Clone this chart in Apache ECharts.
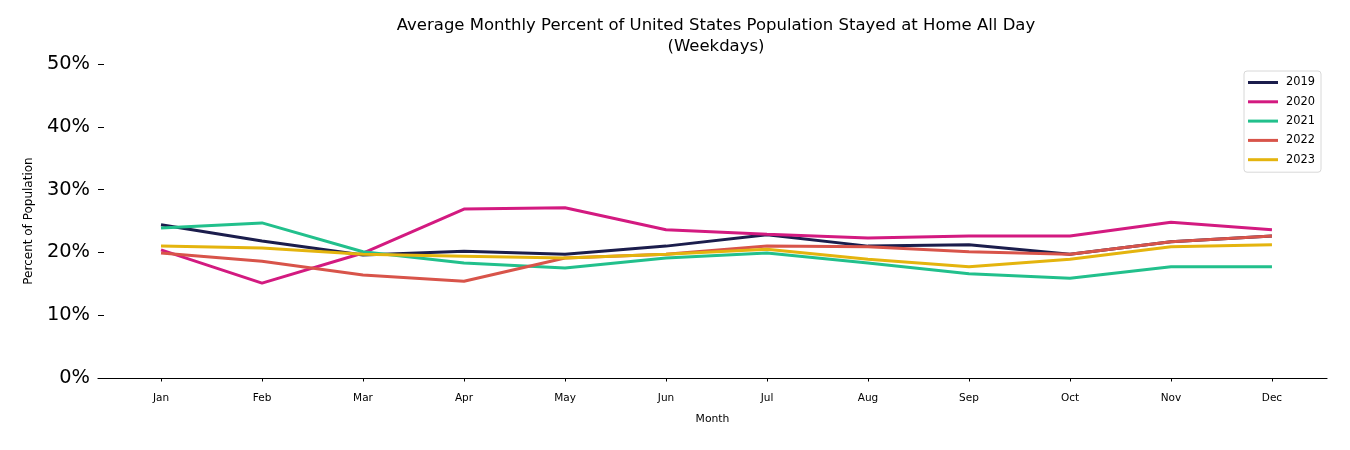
<!DOCTYPE html>
<html>
<head>
<meta charset="utf-8">
<script src="https://cdn.jsdelivr.net/npm/echarts@6/dist/echarts.min.js"></script>
<style>html,body{margin:0;padding:0;background:#fff}#c{width:1350px;height:450px}</style>
</head>
<body>
<div id="c"></div>
<script>
const months = ['Jan','Feb','Mar','Apr','May','Jun','Jul','Aug','Sep','Oct','Nov','Dec'];
const yTicks = [0,10,20,30,40,50];
const years = ['2019','2020','2021','2022','2023'];
const v2019 = [24.4,21.8,19.6,20.2,19.7,21.0,22.8,21.0,21.2,19.7,21.7,22.6];
const v2020 = [20.4,15.1,19.9,26.9,27.1,23.6,22.9,22.3,22.6,22.6,24.8,23.6];
const v2021 = [23.9,24.7,20.1,18.3,17.5,19.1,19.9,18.3,16.6,15.9,17.7,17.7];
const v2022 = [19.9,18.6,16.4,15.4,19.1,19.7,21.0,20.9,20.1,19.7,21.7,22.6];
const v2023 = [21.0,20.7,19.7,19.4,19.1,19.7,20.5,18.9,17.7,18.9,20.9,21.2];
const values = [v2019,v2020,v2021,v2022,v2023];
const colors = ['#1b1d4c','#d31a80','#22c08c','#d8544a','#e4b40e'];

const font = 'DejaVu Sans';
const chart = echarts.init(document.getElementById('c'), null, {renderer:'canvas'});
chart.setOption({
  animation:false,
  backgroundColor:'#fff',
  graphic:[
    {type:'text', x:716, y:17, style:{text:'Average Monthly Percent of United States Population Stayed at Home All Day', font:'16.5px "DejaVu Sans"', fill:'#000', align:'center'}},
    {type:'text', x:716, y:38, style:{text:'(Weekdays)', font:'16.5px "DejaVu Sans"', fill:'#000', align:'center'}}
  ],
  grid:{left:98, right:23, top:64, bottom:72},
  legend:{
    orient:'vertical', right:29, top:71,
    data:years, icon:'rect', itemWidth:30, itemHeight:3, itemGap:8.3,
    padding:[6,6,7,4],
    borderColor:'#d8d8d8', borderWidth:1, borderRadius:3,
    textStyle:{fontFamily:font, fontSize:11.4, color:'#000', padding:[0,0,0,3]}
  },
  xAxis:{
    type:'value', min:-0.624, max:11.545,
    name:'Month', nameLocation:'middle', nameGap:36,
    nameTextStyle:{fontFamily:font, fontSize:10.8, color:'#000'},
    axisLine:{show:true, lineStyle:{color:'#000', width:1.2}},
    axisTick:{show:true, length:3.5, lineStyle:{color:'#000'}, customValues:months.map((m,i)=>i)},
    axisLabel:{customValues:months.map((m,i)=>i), formatter:(v)=>months[Math.round(v)], fontFamily:font, fontSize:10.5, color:'#000', margin:15},
    splitLine:{show:false}
  },
  yAxis:{
    type:'value', min:0, max:50, interval:10,
    name:'Percent of Population', nameLocation:'middle', nameGap:63, nameRotate:90,
    nameTextStyle:{fontFamily:font, fontSize:12, color:'#000'},
    axisLine:{show:false, onZero:false},
    axisTick:{show:true, inside:true, length:6, lineStyle:{color:'#000', width:1}},
    axisLabel:{formatter:'{value}%', fontFamily:font, fontSize:19.4, color:'#000', margin:8, padding:[6,0,0,0]},
    splitLine:{show:false}
  },
  series: years.map((y,k)=>({
    name:y, type:'line', showSymbol:false, symbol:'none',
    data: values[k].map((v,i)=>[i,v]),
    lineStyle:{color:colors[k], width:3},
    itemStyle:{color:colors[k]}
  }))
});
</script>
</body>
</html>
